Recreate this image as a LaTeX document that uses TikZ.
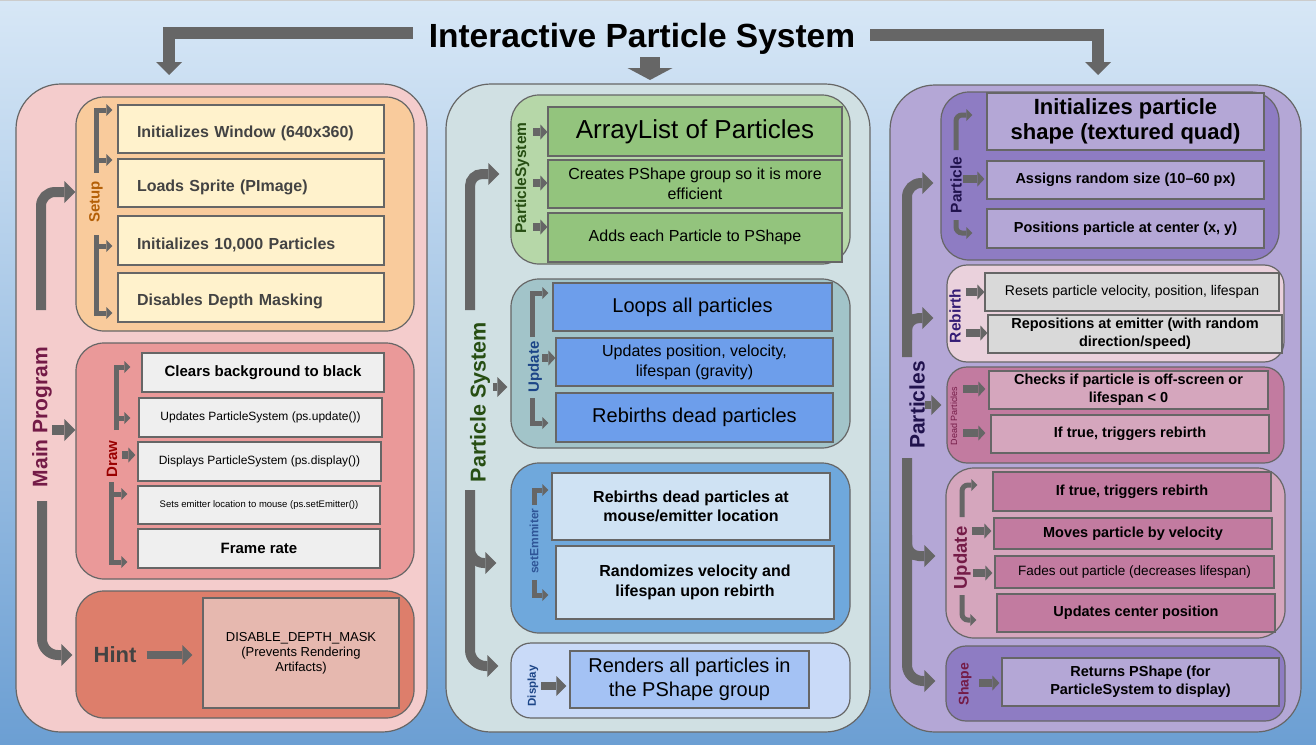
\documentclass[tikz,border=0pt]{standalone}
\usepackage{fontspec}
\usepackage{graphicx}
\setmainfont{Liberation Sans}
\usetikzlibrary{arrows.meta}
\definecolor{bgtop}{HTML}{D7E7F6}
\definecolor{bgbot}{HTML}{6C9FD3}
\definecolor{cArr}{HTML}{666666}
\definecolor{cBorder}{HTML}{666666}
\definecolor{c434}{HTML}{434343}
\definecolor{cMP}{HTML}{F4CCCC}
\definecolor{cSetup}{HTML}{F9CB9C}
\definecolor{cSetI}{HTML}{FFF2CC}
\definecolor{cDraw}{HTML}{EA9999}
\definecolor{cDrawI}{HTML}{EFEFEF}
\definecolor{cHint}{HTML}{DD7E6B}
\definecolor{cHintI}{HTML}{E6B8AF}
\definecolor{cPS}{HTML}{D0E0E3}
\definecolor{cPSb}{HTML}{B6D7A8}
\definecolor{cPSi}{HTML}{93C47D}
\definecolor{cUpb}{HTML}{A2C4C9}
\definecolor{cUpi}{HTML}{6D9EEB}
\definecolor{cSEb}{HTML}{6FA8DC}
\definecolor{cSEi}{HTML}{CFE2F3}
\definecolor{cDPb}{HTML}{C9DAF8}
\definecolor{cDPi}{HTML}{A4C2F4}
\definecolor{cPT}{HTML}{B4A7D6}
\definecolor{cPab}{HTML}{8E7CC3}
\definecolor{cRbb}{HTML}{EAD1DC}
\definecolor{cRbi}{HTML}{D9D9D9}
\definecolor{cDeb}{HTML}{C27BA0}
\definecolor{cDei}{HTML}{D5A6BD}
\definecolor{tMP}{HTML}{741B47}
\definecolor{tSetup}{HTML}{B45F06}
\definecolor{tDraw}{HTML}{990000}
\definecolor{tGreen}{HTML}{274E13}
\definecolor{tBlue}{HTML}{1C4587}
\definecolor{tSE}{HTML}{2F5597}
\definecolor{tNavy}{HTML}{20124D}
\definecolor{tPurp}{HTML}{351C75}
\newcommand\fs[1]{\fontsize{#1}{#1}\selectfont}
\newcommand\bx[7]{\node[#6, minimum width={(#4-#2)*1pt}, minimum height={(#5-#3)*1pt}] (#1) at ({(#2+#4)/2},{(#3+#5)/2}) {#7};}
\newcommand\dn[1]{\raisebox{-4pt}[\height][\depth]{#1}}
\tikzset{
 panel/.style={draw=cBorder, line width=1.2pt, rounded corners=45pt, inner sep=0pt},
 sub/.style={draw=cBorder, line width=1.2pt, rounded corners=28pt, inner sep=0pt},
 item/.style={draw=cBorder, line width=1.2pt, inner sep=0pt, align=center, text=black},
 sitem/.style={item, fill=cSetI, text=c434, font=\bfseries\fontsize{16}{19}\selectfont, align=left, text width=228pt, inner xsep=19pt},
 lbl/.style={rotate=90, inner sep=0pt},
 bigarr/.style={draw=cArr, line width=10pt, -{Triangle[width=22pt,length=11pt,line width=0pt]}},
 titlearr/.style={draw=cArr, line width=12pt, -{Triangle[width=26pt,length=13pt,line width=0pt]}},
 midarr/.style={draw=cArr, line width=8pt, -{Triangle[width=20pt,length=10pt,line width=0pt]}},
 stub/.style={draw=cArr, line width=8pt, -{Triangle[width=15pt,length=7pt,line width=0pt]}},
 brk/.style={draw=cArr, line width=5pt, -{Triangle[width=12pt,length=6pt,line width=0pt]}},
}
\begin{document}
\begin{tikzpicture}[x=1pt,y=-1pt]
\useasboundingbox (0,0) rectangle (1316,744);
\shade[top color=bgtop, bottom color=bgbot] (0,0) rectangle (1316,744);
\draw[line width=2pt, draw=black!20] (0,0) -- (1316,0);

% title
\node[font=\bfseries\fs{33.5}, inner sep=0pt, anchor=base] (title) at (642,47) {Interactive Particle System};
\coordinate (tl) at (413,33);
\coordinate (tr) at (870,35);
\coordinate (mpin) at (169,75);
\coordinate (ptin) at (1098,75);
\draw[titlearr] (tl) -| (mpin);
\draw[titlearr] (tr) -| (ptin);
\coordinate (psin) at (650,80);
\draw[draw=cArr, line width=20pt, -{Triangle[width=45pt,length=12pt,line width=0pt]}] (650,57) -- (psin);

% ================= LEFT PANEL
\bx{mp}{16}{84}{427}{732}{panel, fill=cMP}{}
\bx{setup}{76}{97}{414}{331}{sub, fill=cSetup}{}
\bx{s1}{118}{105}{384}{153}{sitem}{\dn{Initializes Window (640x360)}}
\bx{s2}{118}{159}{384}{207}{sitem}{\dn{Loads Sprite (PImage)}}
\bx{s3}{118}{216}{384}{265}{sitem}{\dn{Initializes 10,000 Particles}}
\bx{s4}{118}{273}{384}{322}{sitem}{\dn{Disables Depth Masking}}
\node[lbl, text=tSetup, font=\bfseries\fs{15}] (setupL) at (96,202) {Setup};
\draw[brk] (96,173) -- (96,110) -- ([xshift=-5pt]s1.west |- 0,110);
\draw[brk] (96,160) -- ([xshift=-5pt]s2.west |- 0,160);
\draw[brk] (96,235) -- (96,313) -- ([xshift=-5pt]s4.west |- 0,313);
\draw[brk] (96,246) -- ([xshift=-5pt]s3.west |- 0,246);

\node[lbl, text=tMP, font=\bfseries\fs{21}] (mpL) at (42,417) {Main Program};
\draw[bigarr, rounded corners=14pt] (41,310) -- (41,192) -- (setup.west |- 0,192);

\bx{draw}{76}{343}{414}{579}{sub, fill=cDraw}{}
\bx{d1}{142}{353}{384}{392}{item, fill=cDrawI, font=\bfseries\fs{15}}{Clears background to black}
\bx{d2}{139}{398}{382}{437}{item, fill=cDrawI, font=\fs{12}}{Updates ParticleSystem (ps.update())}
\bx{d3}{138}{442}{381}{481}{item, fill=cDrawI, font=\fs{12}}{Displays ParticleSystem (ps.display())}
\bx{d4}{138}{486}{380}{524}{item, fill=cDrawI, font=\fs{9.5}}{Sets emitter location to mouse (ps.setEmitter())}
\bx{d5}{138}{529}{380}{568}{item, fill=cDrawI, font=\bfseries\fs{15}}{Frame rate}
\node[lbl, text=tDraw, font=\bfseries\fs{15}] (drawL) at (112,459) {Draw};
\draw[brk] (116,430) -- (116,367) -- ([xshift=-11pt]d1.west |- 0,367);
\draw[brk] (116,418) -- ([xshift=-8pt]d2.west |- 0,418);
\draw[stub] (122,455) -- ([xshift=-2pt]d3.west |- 0,455);
\draw[brk] (111,482) -- (111,562) -- ([xshift=-10pt]d5.west |- 0,562);
\draw[brk] (111,494) -- ([xshift=-10pt]d4.west |- 0,494);
\draw[bigarr] (mpL.south |- 0,430) -- (draw.west |- 0,430);

\bx{hint}{76}{591}{414}{718}{sub, fill=cHint}{}
\node[font=\bfseries\fs{22}, text=c434, inner sep=0pt] (hintL) at (115,655) {Hint};
\bx{hintT}{203}{598}{399}{708}{item, fill=cHintI, font=\fontsize{13}{15}\selectfont}{DISABLE\_DEPTH\_MASK\\(Prevents Rendering\\Artifacts)}
\draw[midarr, shorten <=10pt, shorten >=10pt] (hintL.east) -- (hintT.west |- hintL.east);
\draw[bigarr, rounded corners=16pt] (42,501) -- (42,655) -- ([xshift=-3pt]hint.west |- 0,655);

% ================= MIDDLE PANEL
\bx{ps}{446}{84}{870}{732}{panel, fill=cPS}{}
\bx{psb}{511}{95}{850}{264}{sub, fill=cPSb}{}
\bx{p1}{548}{107}{842}{156}{item, fill=cPSi, font=\fs{26}}{ArrayList of Particles}
\bx{p2}{548}{160}{842}{208}{item, fill=cPSi, font=\fontsize{16}{20}\selectfont}{Creates PShape group so it is more\\efficient}
\bx{p3}{548}{213}{842}{262}{item, fill=cPSi, font=\fs{16}}{Adds each Particle to PShape}
\node[lbl, text=tGreen, font=\bfseries\fs{15.5}] (psbL) at (522,178) {ParticleSystem};
\draw[stub] (533,132) -- (p1.west |- 0,132);
\draw[stub] (533,183) -- (p2.west |- 0,183);
\draw[stub] (533,227) -- (p3.west |- 0,227);

\bx{upb}{511}{279}{850}{448}{sub, fill=cUpb}{}
\bx{u1}{553}{283}{832}{331}{item, fill=cUpi, font=\fs{20}}{Loops all particles}
\bx{u2}{556}{338}{833}{386}{item, fill=cUpi, font=\fontsize{16}{20}\selectfont}{Updates position, velocity,\\lifespan (gravity)}
\bx{u3}{556}{393}{833}{442}{item, fill=cUpi, font=\fs{20}}{Rebirths dead particles}
\node[lbl, text=tBlue, font=\bfseries\fs{15}] (upbL) at (535,367) {Update};
\draw[brk] (532,337) -- (532,293) -- ([xshift=-4pt]u1.west |- 0,293);
\draw[stub] (542,358) -- (u2.west |- 0,358);
\draw[brk] (532,398) -- (532,423) -- ([xshift=-7pt]u3.west |- 0,423);

\bx{seb}{511}{463}{850}{633}{sub, fill=cSEb}{}
\bx{e1}{552}{473}{830}{540}{item, fill=cSEi, font=\bfseries\fontsize{16}{19}\selectfont}{Rebirths dead particles at\\mouse/emitter location}
\bx{e2}{556}{546}{834}{619}{item, fill=cSEi, font=\bfseries\fontsize{16}{20}\selectfont}{Randomizes velocity and\\lifespan upon rebirth}
\node[lbl, text=tSE, font=\bfseries\fs{12}] (sebL) at (534,541) {setEmmiter};
\draw[brk] (534,505) -- (534,490) -- ([xshift=-3pt]e1.west |- 0,490);
\draw[brk] (534,580) -- (534,595) -- ([xshift=-7pt]e2.west |- 0,595);

\bx{dpb}{511}{643}{850}{718}{sub, fill=cDPb, rounded corners=20pt}{}
\bx{dp1}{570}{651}{809}{708}{item, fill=cDPi, font=\fontsize{20}{24}\selectfont}{Renders all particles in\\the PShape group}
\node[lbl, text=tBlue, font=\bfseries\fs{11.5}] (dpbL) at (533,686) {Display};
\draw[midarr] (541,686) -- ([xshift=-3pt]dp1.west |- 0,686);

\node[lbl, text=tGreen, font=\bfseries\fs{21.5}] (psL) at (480,402) {Particle System};
\draw[bigarr, rounded corners=12pt] (470,310) -- (470,174) -- ([xshift=-11pt]psb.west |- 0,174);
\draw[midarr] (493,387) -- ([xshift=-3pt]upb.west |- 0,387);
\draw[bigarr, rounded corners=14pt] (470,540) -- (470,563) -- ([xshift=-14pt]seb.west |- 0,563);
\draw[bigarr, rounded corners=16pt] (470,490) -- (470,666) -- ([xshift=-12pt]dpb.west |- 0,666);

% ================= RIGHT PANEL
\bx{pt}{890}{85}{1301}{732}{panel, fill=cPT}{}
\bx{pab}{941}{92}{1279}{260}{sub, fill=cPab}{}
\bx{a1}{987}{93}{1264}{150}{item, fill=cPT, font=\bfseries\fontsize{22}{25}\selectfont}{Initializes particle\\shape (textured quad)}
\bx{a2}{987}{161}{1264}{199}{item, fill=cPT, font=\bfseries\fs{14.5}}{Assigns random size (10–60 px)}
\bx{a3}{987}{209}{1264}{248}{item, fill=cPT, font=\bfseries\fs{14.5}}{Positions particle at center (x, y)}
\node[lbl, text=tNavy, font=\bfseries\fs{15.5}] (pabL) at (956,185) {Particle};
\draw[brk, rounded corners=6pt] (956,150) -- (956,115) -- ([xshift=-14pt]a1.west |- 0,115);
\draw[stub] (963,179) -- ([xshift=-2pt]a2.west |- 0,179);
\draw[brk, rounded corners=6pt] (956,220) -- (956,233) -- ([xshift=-14pt]a3.west |- 0,233);

\bx{rbb}{947}{265}{1284}{362}{sub, fill=cRbb, rounded corners=20pt}{}
\bx{r1}{985}{273}{1279}{311}{item, fill=cRbi, font=\fs{14}}{Resets particle velocity, position, lifespan}
\bx{r2}{988}{315}{1282}{353}{item, fill=cRbi, font=\bfseries\fontsize{14.5}{18}\selectfont}{Repositions at emitter (with random\\direction/speed)}
\node[lbl, text=tPurp, font=\bfseries\fs{15.5}] (rbbL) at (955,316) {Rebirth};
\draw[stub] (966,292) -- (r1.west |- 0,292);
\draw[stub] (966,333) -- (r2.west |- 0,333);

\bx{deb}{947}{367}{1284}{463}{sub, fill=cDeb, rounded corners=20pt}{}
\bx{k1}{989}{371}{1268}{409}{item, fill=cDei, font=\bfseries\fontsize{14.5}{18}\selectfont}{Checks if particle is off-screen or\\lifespan < 0}
\bx{k2}{991}{415}{1269}{453}{item, fill=cDei, font=\bfseries\fs{14.5}}{If true, triggers rebirth}
\node[lbl, text=tMP, font=\fs{9}] (debL) at (954,416) {Dead Particles};
\draw[stub] (963,389) -- ([xshift=-3pt]k1.west |- 0,389);
\draw[stub] (963,433) -- ([xshift=-5pt]k2.west |- 0,433);

\bx{rub}{946}{468}{1285}{638}{sub, fill=cDei}{}
\bx{q1}{993}{472}{1271}{511}{item, fill=cDeb, font=\bfseries\fs{14.5}}{If true, triggers rebirth}
\bx{q2}{994}{518}{1272}{549}{item, fill=cDeb, font=\bfseries\fs{14.5}}{Moves particle by velocity}
\bx{q3}{995}{556}{1274}{588}{item, fill=cDeb, font=\fs{13.5}}{Fades out particle (decreases lifespan)}
\bx{q4}{997}{594}{1275}{632}{item, fill=cDeb, font=\bfseries\fs{14.5}}{Updates center position}
\node[lbl, text=tMP, font=\bfseries\fs{18.5}] (rubL) at (962,558) {Update};
\draw[brk, rounded corners=6pt] (962,517) -- (962,485) -- ([xshift=-15pt]q1.west |- 0,485);
\draw[stub] (972,531) -- ([xshift=-2pt]q2.west |- 0,531);
\draw[stub] (973,573) -- ([xshift=-2pt]q3.west |- 0,573);
\draw[brk, rounded corners=6pt] (962,595) -- (962,620) -- ([xshift=-20pt]q4.west |- 0,620);

\bx{shb}{946}{646}{1285}{721}{sub, fill=cPab, rounded corners=20pt}{}
\bx{h1}{1002}{658}{1279}{706}{item, fill=cPT, font=\bfseries\fontsize{14.5}{18}\selectfont}{Returns PShape (for\\ParticleSystem to display)}
\node[lbl, text=tMP, font=\bfseries\fs{14}] (shbL) at (965,684) {Shape};
\draw[stub] (979,683) -- ([xshift=-2pt]h1.west |- 0,683);

\node[lbl, text=tNavy, font=\bfseries\fs{21}] (ptL) at (917,405) {Particles};
\draw[bigarr, rounded corners=14pt] (907,357) -- (907,183) -- ([xshift=-7pt]pab.west |- 0,183);
\draw[bigarr, rounded corners=12pt] (907,340) -- (907,318) -- ([xshift=-13pt]rbb.west |- 0,318);
\draw[midarr] (ptL.south |- 0,405) -- ([xshift=-5pt]deb.west |- 0,405);
\draw[bigarr, rounded corners=12pt] (907,535) -- (907,556) -- ([xshift=-10pt]rub.west |- 0,556);
\draw[bigarr, rounded corners=16pt] (907,458) -- (907,681) -- ([xshift=-10pt]shb.west |- 0,681);
\end{tikzpicture}
\end{document}
